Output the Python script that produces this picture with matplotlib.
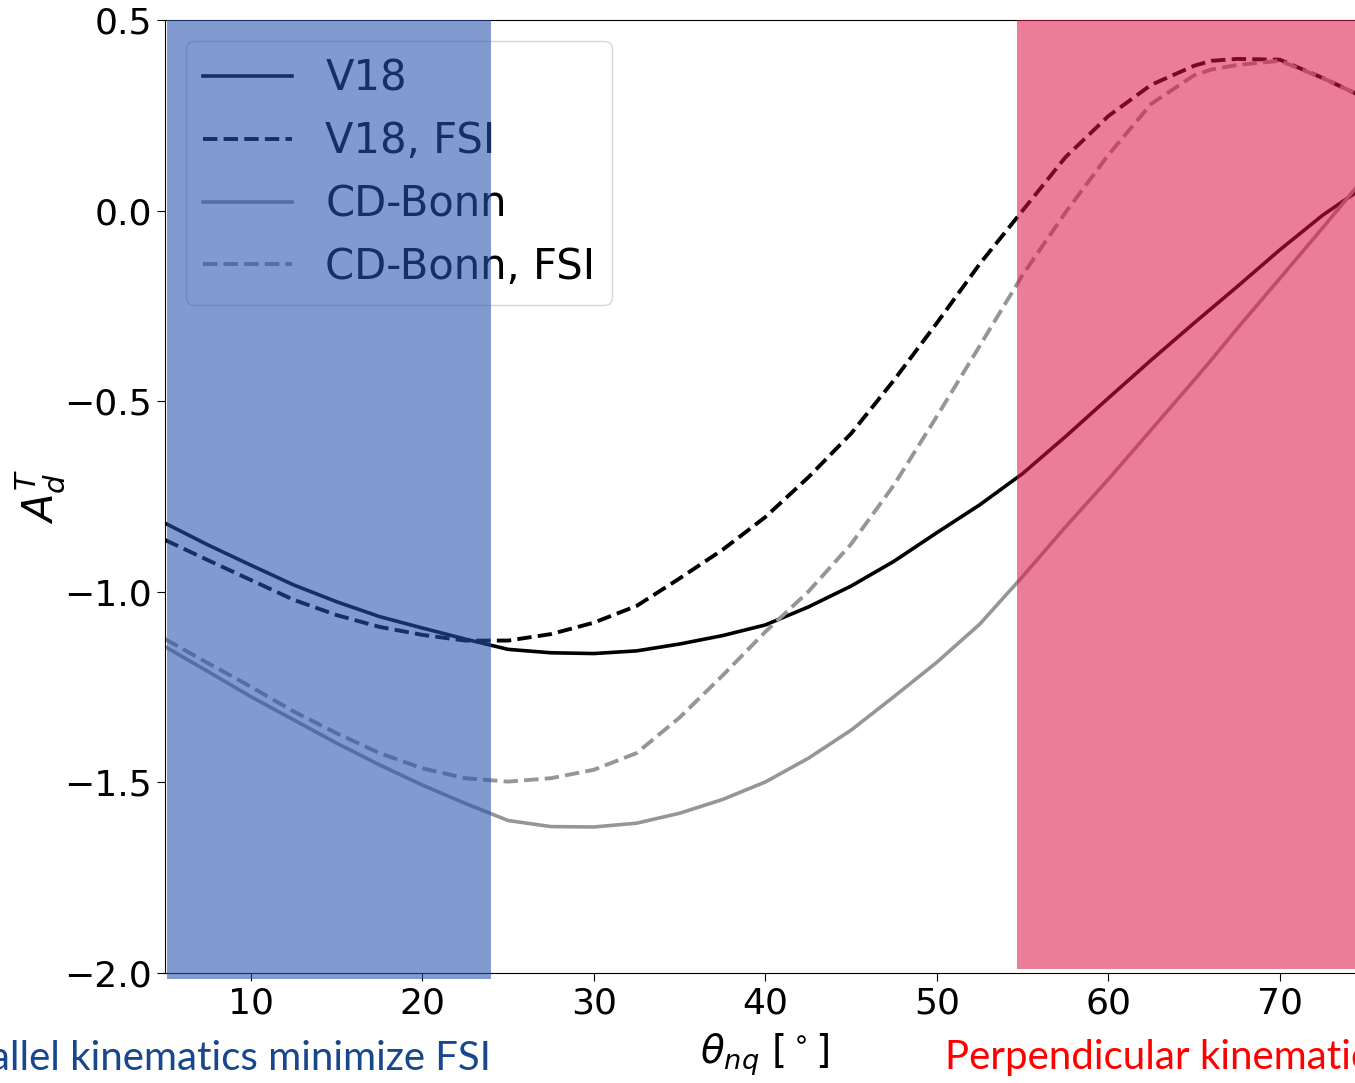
import matplotlib
matplotlib.use("Agg")
import matplotlib.pyplot as plt
from matplotlib.patches import Rectangle

# angle theta_nq in degrees
theta = [5, 7.5, 10, 12.5, 15, 17.5, 20, 22.5, 25, 27.5, 30, 32.5, 35, 37.5, 40,
         42.5, 45, 47.5, 50, 52.5, 55, 57.5, 60, 62.5, 65, 66, 67.5, 70, 72.5, 75]

v18 = [-0.820, -0.877, -0.930, -0.982, -1.026, -1.065, -1.095, -1.124, -1.151, -1.160,
       -1.162, -1.155, -1.137, -1.115, -1.087, -1.040, -0.985, -0.920, -0.845, -0.772,
       -0.690, -0.593, -0.492, -0.392, -0.295, -0.257, -0.200, -0.103, -0.012, 0.065]
v18_fsi = [-0.864, -0.917, -0.969, -1.021, -1.061, -1.092, -1.113, -1.128, -1.128, -1.111,
           -1.081, -1.037, -0.965, -0.890, -0.804, -0.700, -0.585, -0.445, -0.295, -0.140,
           0.000, 0.140, 0.248, 0.330, 0.380, 0.393, 0.398, 0.396, 0.348, 0.295]
cdb = [-1.144, -1.209, -1.275, -1.336, -1.397, -1.454, -1.507, -1.555, -1.600, -1.616,
       -1.617, -1.607, -1.581, -1.545, -1.499, -1.437, -1.363, -1.275, -1.185, -1.085,
       -0.960, -0.830, -0.705, -0.575, -0.445, -0.392, -0.310, -0.178, -0.045, 0.090]
cdb_fsi = [-1.124, -1.187, -1.249, -1.314, -1.371, -1.423, -1.463, -1.489, -1.498, -1.489,
           -1.467, -1.423, -1.330, -1.220, -1.105, -1.000, -0.875, -0.720, -0.540, -0.355,
           -0.169, -0.005, 0.146, 0.280, 0.355, 0.370, 0.382, 0.393, 0.348, 0.295]

labels = ["V18", "V18, FSI", "CD-Bonn", "CD-Bonn, FSI"]

fig = plt.figure(figsize=(13.55, 10.83), dpi=100)
ax = fig.add_axes([0.1218, 0.1016, 0.886, 0.8799])

gray = "#969696"
ax.plot(theta, v18, color="k", lw=2.6, label=labels[0])
ax.plot(theta, v18_fsi, color="k", lw=2.8, ls="--", label=labels[1])
ax.plot(theta, cdb, color=gray, lw=2.6, label=labels[2])
ax.plot(theta, cdb_fsi, color=gray, lw=2.8, ls="--", label=labels[3])

ax.set_xlim(5, 75)
ax.set_ylim(-2.0, 0.5)
ax.set_xticks([10, 20, 30, 40, 50, 60, 70])
ax.set_yticks([-2.0, -1.5, -1.0, -0.5, 0.0, 0.5])
ax.tick_params(labelsize=26, length=6)
ax.set_xlabel(r"$\theta_{nq}$ [$^\circ$]", fontsize=28, labelpad=8)
ax.set_ylabel(r"$A_d^T$", fontsize=30)
ax.yaxis.set_label_coords(-0.082, 0.5)
ax.legend(loc="upper left", fontsize=30, handlelength=2.15, labelspacing=0.5,
          borderaxespad=0.5)

# shaded regions laid over the plot
ax.add_patch(Rectangle((5.1, -2.016), 24.0 - 5.1, 2.516, transform=ax.transData,
                       facecolor="#2652ad", alpha=0.58, lw=0, zorder=10, clip_on=False))
ax.add_patch(Rectangle((54.7, -1.99), 21, 2.49, transform=ax.transData,
                       facecolor="#de1245", alpha=0.55, lw=0, zorder=10, clip_on=False))

fig.text(491 / 1355, 1 - 1058 / 1083, "Parallel kinematics minimize FSI", ha="right",
         va="center", fontsize=29, color="#17478c", family="Lato")
fig.text(945 / 1355, 1 - 1058 / 1083, "Perpendicular kinematics maximize FSI", ha="left",
         va="center", fontsize=29, color="#ff0000", family="Lato")

fig.savefig("out.png", dpi=100)
